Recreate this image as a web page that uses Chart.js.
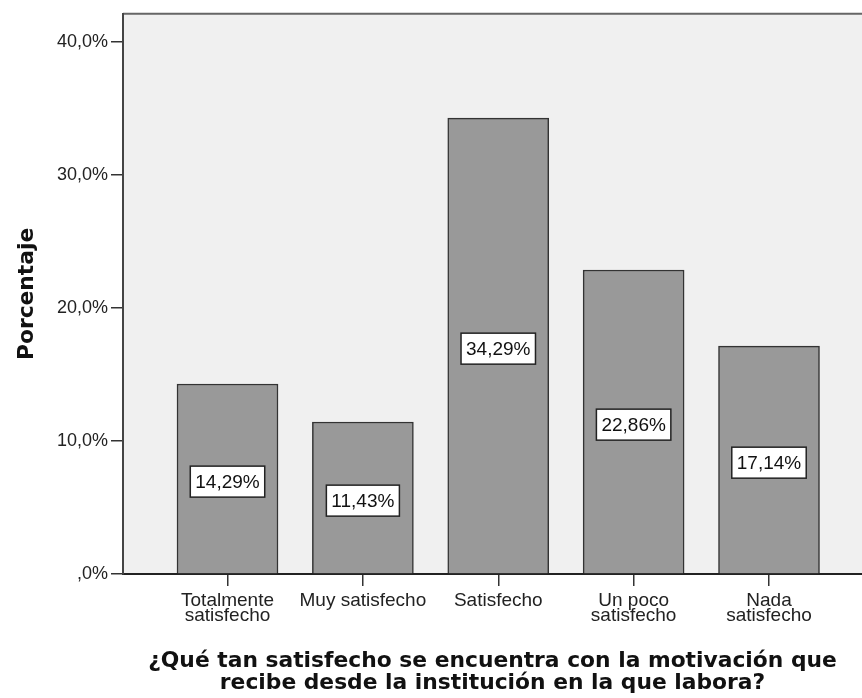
<!DOCTYPE html>
<html>
<head>
<meta charset="utf-8">
<script src="https://cdn.jsdelivr.net/npm/chart.js@4/dist/chart.umd.min.js"></script>
<style>
  html, body { margin: 0; padding: 0; background: #fff; }
  #wrap { width: 862px; height: 698px; position: relative; }
</style>
</head>
<body>
<div id="wrap"><canvas id="chart"></canvas></div>
<script>
// data
const categories = [
  ['Totalmente', 'satisfecho'],
  'Muy satisfecho',
  'Satisfecho',
  ['Un poco', 'satisfecho'],
  ['Nada', 'satisfecho']
];
const percentages = [14.29, 11.43, 34.29, 22.86, 17.14];
const yTickValues = [0, 10, 20, 30, 40];
const yTickLabels = [',0%', '10,0%', '20,0%', '30,0%', '40,0%'];
const yTitle = 'Porcentaje';
const xTitle = [
  '¿Qué tan satisfecho se encuentra con la motivación que',
  'recibe desde la institución en la que labora?'
];

const sansFamily = '"Liberation Sans", Arial, sans-serif';
const xTickFont = { family: sansFamily, size: 19, lineHeight: '15.5px' };
const yTickFont = { family: sansFamily, size: 18 };
const titleFont = { family: '"DejaVu Sans", Verdana, sans-serif', size: 21.8, weight: 'bold', lineHeight: '22px' };

// plot background + top border
const plotFrame = {
  id: 'plotFrame',
  beforeDraw(chart) {
    const { ctx, chartArea: a } = chart;
    ctx.save();
    ctx.fillStyle = '#f0f0f0';
    ctx.fillRect(a.left, a.top, a.right - a.left, a.bottom - a.top);
    ctx.strokeStyle = '#666';
    ctx.lineWidth = 2;
    ctx.beginPath();
    ctx.moveTo(a.left, a.top);
    ctx.lineTo(a.right, a.top);
    ctx.stroke();
    ctx.restore();
  }
};

// boxed value labels in the middle of each bar
const boxLabels = {
  id: 'boxLabels',
  afterDatasetsDraw(chart) {
    const ctx = chart.ctx;
    const meta = chart.getDatasetMeta(0);
    ctx.save();
    ctx.font = '19px ' + sansFamily;
    ctx.textAlign = 'center';
    ctx.textBaseline = 'middle';
    meta.data.forEach((bar, i) => {
      const text = percentages[i].toFixed(2).replace('.', ',') + '%';
      const w = ctx.measureText(text).width + 10;
      const h = 31;
      const cx = bar.x;
      const cy = (bar.y + bar.base) / 2 + 3;
      ctx.fillStyle = '#fff';
      ctx.fillRect(cx - w / 2, cy - h / 2, w, h);
      ctx.strokeStyle = '#222';
      ctx.lineWidth = 1.5;
      ctx.strokeRect(cx - w / 2, cy - h / 2, w, h);
      ctx.fillStyle = '#111';
      ctx.fillText(text, cx, cy + 1);
    });
    ctx.restore();
  }
};

new Chart(document.getElementById('chart'), {
  type: 'bar',
  data: {
    datasets: [{
      data: percentages.map((v, i) => ({ x: i + 1, y: v })),
      backgroundColor: '#999999',
      borderColor: '#333333',
      borderWidth: 1.5,
      barThickness: 101
    }]
  },
  options: {
    responsive: true,
    maintainAspectRatio: false,
    animation: false,
    layout: { padding: { top: 13, right: 0, bottom: 0, left: 0 } },
    plugins: {
      legend: { display: false },
      tooltip: { enabled: false }
    },
    scales: {
      x: {
        type: 'linear',
        offset: false,
        min: 0.228,
        max: 5.687,
        afterBuildTicks: scale => { scale.ticks = categories.map((c, i) => ({ value: i + 1 })); },
        afterFit: scale => { scale.height = 124; },
        grid: { offset: false, drawOnChartArea: false, tickLength: 12, color: '#333', lineWidth: 1.5 },
        border: { color: '#222', width: 2 },
        ticks: {
          color: '#222',
          font: xTickFont,
          padding: 7,
          maxRotation: 0,
          autoSkip: false,
          callback: v => categories[v - 1]
        },
        title: {
          display: true,
          text: xTitle,
          color: '#111',
          font: titleFont,
          padding: { top: 0, bottom: 4 }
        }
      },
      y: {
        min: 0,
        max: 42.13,
        afterBuildTicks: scale => { scale.ticks = yTickValues.map(v => ({ value: v })); },
        afterFit: scale => { scale.width = 123; },
        grid: { drawOnChartArea: false, tickLength: 12, color: '#333', lineWidth: 1.5 },
        border: { color: '#444', width: 2 },
        ticks: {
          color: '#222',
          font: yTickFont,
          padding: 3,
          callback: v => yTickLabels[yTickValues.indexOf(v)]
        },
        title: {
          display: true,
          text: yTitle,
          color: '#111',
          font: titleFont,
          padding: { top: 16, bottom: 0 }
        }
      }
    }
  },
  plugins: [plotFrame, boxLabels]
});
</script>
</body>
</html>
